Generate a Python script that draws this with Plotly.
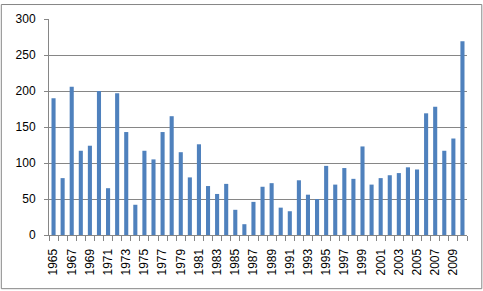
import plotly.graph_objects as go

years = list(range(1965, 2011))
values = [190, 79, 206, 117, 124, 200, 65, 197, 143, 42,
          117, 105, 143, 165, 115, 80, 126, 68, 57, 71,
          35, 15, 46, 67, 72, 38, 33, 76, 56, 50,
          96, 70, 93, 78, 123, 70, 79, 83, 86, 94,
          91, 169, 178, 117, 134, 269]
tick_years = list(range(1965, 2011, 2))

W, H = 483, 291
L, R, T, B = 48.7, 16.3, 15.7, 56
pw, ph = W - L - R, H - T - B

fig = go.Figure(go.Bar(x=years, y=values, marker=dict(color="#4F81BD", line=dict(width=0)), width=0.45))

grid = "#868686"
fig.update_layout(
    width=W, height=H,
    margin=dict(l=L, r=R, t=T, b=B, pad=0),
    paper_bgcolor="white", plot_bgcolor="white",
    font=dict(family="Liberation Sans, Arial", size=12, color="#000000"),
    showlegend=False,
    xaxis=dict(range=[1964.5, 2010.5], tickmode="array", tickvals=tick_years,
               ticktext=[str(y) for y in tick_years], tickangle=-90,
               ticks="", showgrid=False, showline=True, linecolor=grid, linewidth=1,
               zeroline=False, ticklabelstandoff=8,
               minor=dict(ticks="outside", ticklen=5, tickcolor=grid, tick0=1964.5, dtick=1, showgrid=False),
               tickfont=dict(size=12)),
    yaxis=dict(range=[0, 300], dtick=50, tick0=0, showgrid=True, gridcolor=grid, gridwidth=1,
               showline=True, linecolor=grid, linewidth=1, ticks="outside", ticklen=4,
               tickcolor=grid, zeroline=False, ticklabelstandoff=6, tickfont=dict(size=12)),
)

# outer chart border
x0 = (1 - L) / pw; x1 = (481.5 - L) / pw
y0 = (H - 289.5 - B) / ph; y1 = (H - 1 - B) / ph
fig.add_shape(type="rect", xref="paper", yref="paper", x0=x0, x1=x1, y0=y0, y1=y1,
              line=dict(color=grid, width=1), fillcolor="rgba(0,0,0,0)", layer="below")

fig.write_html("out.html")
